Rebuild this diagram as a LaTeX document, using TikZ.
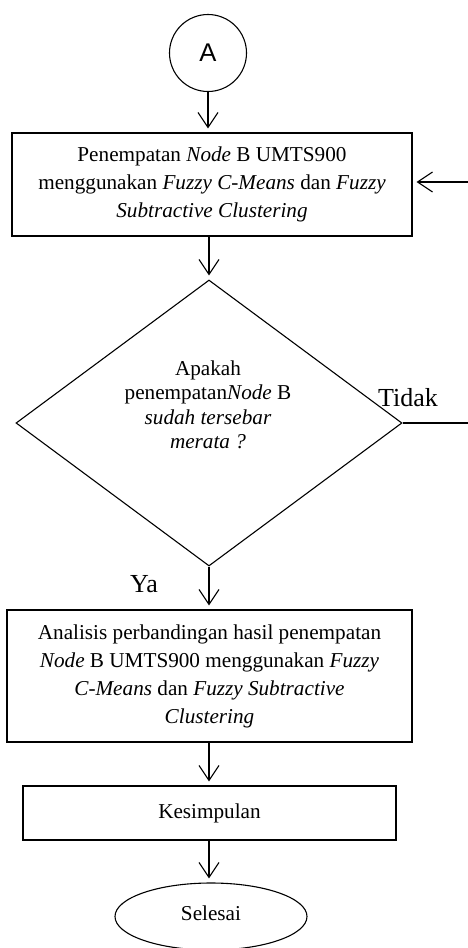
\documentclass[tikz,border=0pt]{standalone}
\usepackage{fontspec}
\setmainfont{Liberation Serif}
\newfontfamily\arialfont{Liberation Sans}
\usetikzlibrary{arrows.meta,shapes.geometric}
\tikzset{
  shapeline/.style={draw=black, line width=1.1pt},
  procbox/.style={shapeline, rectangle, inner sep=0pt, align=center},
  arr/.style={draw=black, line width=1.1pt, -{Straight Barb[length=15pt,width=20pt,line width=1.1pt]}, shorten >=4pt},
  plainline/.style={draw=black, line width=1.1pt},
  lbl/.style={inner sep=0pt, font=\fontsize{26}{30}\selectfont}
}
\begin{document}
\begin{tikzpicture}[x=1pt,y=-1pt]
\useasboundingbox (0,0) rectangle (467,948);
\fontsize{21.2}{28}\selectfont
% start connector
\node[shapeline, circle, minimum size=77pt, inner sep=0pt, font=\arialfont\fontsize{25.6}{30}\selectfont] (A) at (208,53) {A};
% process box 1
\node[procbox, minimum width=400pt, minimum height=103pt] (box1) at (212,184.5)
  {Penempatan \textit{Node} B UMTS900\\menggunakan \textit{Fuzzy C-Means} dan \textit{Fuzzy}\\\textit{Subtractive Clustering}};
% decision
\node[shapeline, diamond, aspect=1.35, minimum width=386pt, minimum height=286pt, inner sep=0pt] (dia) at (209,423) {};
\node[inner sep=0pt, align=center, font=\fontsize{21.2}{24.5}\selectfont] (dtext) at (208,405)
  {Apakah\\penempatan\textit{Node} B\\\textit{sudah tersebar}\\\textit{merata ?}};
% process box 2
\node[procbox, minimum width=405pt, minimum height=132pt] (box2) at (209.5,676)
  {Analisis perbandingan hasil penempatan\\\textit{Node} B UMTS900 menggunakan \textit{Fuzzy}\\\textit{C-Means} dan \textit{Fuzzy Subtractive}\\\textit{Clustering}};
% process box 3
\node[procbox, minimum width=373pt, minimum height=54pt] (box3) at (209.5,813) {Kesimpulan};
% terminator
\node[shapeline, ellipse, minimum width=192pt, minimum height=67pt, inner sep=0pt] (end) at (211,916.5) {};
\node[inner sep=0pt] (endtext) at (211,913) {Selesai};
% labels
\node[lbl, anchor=base west] (tidak) at (378,406) {Tidak};
\node[lbl, anchor=base west] (ya) at (130,592) {Ya};
% connectors
\draw[arr] (A.south) -- (A.south |- box1.north);
\draw[arr] (box1.south -| dia.north) -- (dia.north);
\draw[arr] (dia.south) -- (dia.south |- box2.north);
\draw[arr] (box2.south -| dia.south) -- (dia.south |- box3.north);
\draw[arr] (box3.south -| dia.south) -- (dia.south |- end.north);
\coordinate (loopA) at (470,423);
\coordinate (loopB) at (470,182);
\draw[plainline] (dia.east) -- (loopA) -- (loopB);
\draw[arr] (loopB) -- (box1.east |- loopB);
\end{tikzpicture}
\end{document}
